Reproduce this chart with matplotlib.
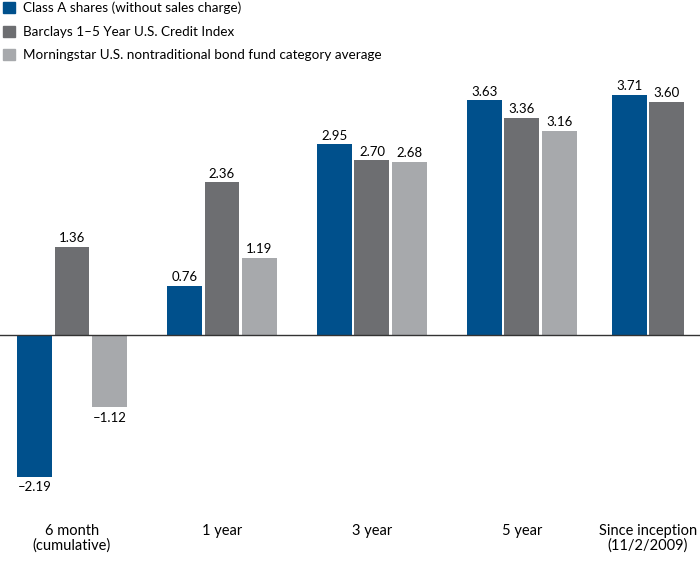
import matplotlib
matplotlib.use("Agg")
import matplotlib.pyplot as plt
from matplotlib.patches import Patch

periods = ["6 month\n(cumulative)", "1 year", "3 year", "5 year", "Since inception\n(11/2/2009)"]
class_a = [-2.19, 0.76, 2.95, 3.63, 3.71]
barclays = [1.36, 2.36, 2.70, 3.36, 3.60]
morningstar = [-1.12, 1.19, 2.68, 3.16, None]

series_names = ["Class A shares (without sales charge)",
                "Barclays 1\u20135 Year U.S. Credit Index",
                "Morningstar U.S. nontraditional bond fund category average"]
colors = ["#00508C", "#6D6E71", "#A7A9AC"]

plt.rcParams['font.family'] = ['Lato', 'DejaVu Sans']

fig = plt.figure(figsize=(7, 5.78), dpi=100)
ax = fig.add_axes([0, 1 - 518 / 578, 1, (518 - 70) / 578])

# group centres; the last group only has two bars so it's pulled left
centers = [0, 1, 2, 3, 3.84]
width = 0.233
step = 0.25


def fmt(v):
    s = f"{abs(v):.2f}"
    return "\u2013" + s if v < 0 else s


all_series = [class_a, barclays, morningstar]
for k, (vals, col) in enumerate(zip(all_series, colors)):
    for i, v in enumerate(vals):
        if v is None:
            continue
        n = sum(1 for s in all_series if s[i] is not None)
        x = centers[i] + (k - (n - 1) / 2) * step
        ax.bar(x, v, width=width, color=col)
        if v >= 0:
            ax.text(x, v + 0.04, fmt(v), ha='center', va='bottom', fontsize=9.5)
        else:
            ax.text(x, v - 0.07, fmt(v), ha='center', va='top', fontsize=9.5)

ax.axhline(0, color='#333333', lw=1)
ax.set_xlim(-0.48, 4.187)
ax.set_ylim(-(518 - 335) / 64.7, (335 - 70) / 64.7)

ax.set_xticks([0, 1, 2, 3, 3.84])
ax.set_xticklabels(periods, fontsize=10.5, linespacing=1.1)
ax.tick_params(axis='x', length=0, pad=4)
ax.set_yticks([])
for sp in ax.spines.values():
    sp.set_visible(False)

handles = [Patch(color=c) for c in colors]
fig.legend(handles, series_names, loc='upper left', bbox_to_anchor=(0.0, 1.002),
           frameon=False, fontsize=9.7, handlelength=0.9, handleheight=0.9,
           handletextpad=0.6, labelspacing=0.85, borderaxespad=0.0, borderpad=0.2)

fig.savefig("out.png", dpi=100)
